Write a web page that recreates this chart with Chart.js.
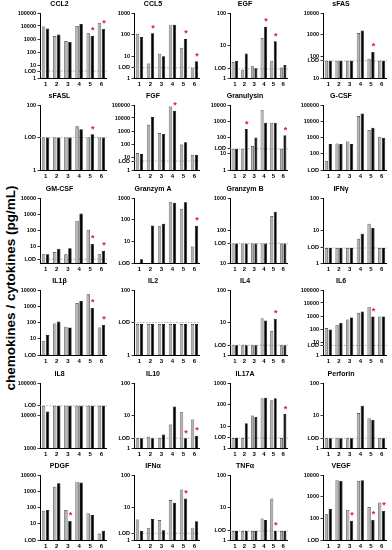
<!DOCTYPE html>
<html><head><meta charset="utf-8">
<script src="https://cdn.jsdelivr.net/npm/chart.js@4.4.0/dist/chart.umd.min.js"></script>
<style>
body{margin:0;background:#fff;width:392px;height:550px;overflow:hidden;position:relative;font-family:'Liberation Sans',Arial,sans-serif}
canvas{position:absolute}
#ylab{position:absolute;left:10px;top:288px;transform:translate(-50%,-50%) rotate(-90deg);white-space:nowrap;font-weight:bold;font-size:13.5px}
</style></head><body>
<div id="ylab">chemokines / cytokines (pg/mL)</div>
<script>
const groups = ['1', '2', '3', '4', '5', '6'];
const titles = ['CCL2', 'CCL5', 'EGF', 'sFAS', 'sFASL', 'FGF', 'Granulysin', 'G-CSF',
  'GM-CSF', 'Granzym A', 'Granzym B', 'IFNγ', 'IL1β', 'IL2', 'IL4', 'IL6',
  'IL8', 'IL10', 'IL17A', 'Perforin', 'PDGF', 'IFNα', 'TNFα', 'VEGF'];

// gray (A) and black (B) bars, pg/mL
const ccl2A = [9000, 1700, 700, 10000, 2800, 18000], ccl2B = [6500, 2200, 600, 14000, 1800, 6000];
const ccl5A = [110, 4.7, 13, 275, 25, 3], ccl5B = [78, 115, 10, 290, 63, 6];
const egfA = [3.1, 1.8, 2.3, 17, 3.4, 2.1], egfB = [3.4, 5.7, 2.0, 38, 13.4, 2.5];
const sfasA = [62, 62, 62, 1200, 77, 62], sfasB = [62, 62, 62, 1550, 160, 62];
const sfaslA = [10, 10, 10, 22, 10, 10], sfaslB = [10, 10, 10, 18, 12.6, 10];
const fgfA = [20, 3000, 700, 75000, 90, 15], fgfB = [17, 12000, 600, 36000, 135, 15];
const granulysinA = [20, 20, 30, 5000, 800, 20], granulysinB = [20, 330, 100, 800, 800, 140];
const gcsfA = [37, 430, 560, 21000, 2900, 1100], gcsfB = [400, 400, 400, 30000, 4000, 950];
const gmcsfA = [3.4, 4.7, 3.4, 400, 110, 3.4], gmcsfB = [3.4, 7.6, 8, 1100, 15, 5.7];
const granzymAA = [1, 1, 50, 630, 320, 5.7], granzymAB = [1.5, 54, 65, 600, 630, 52];
const granzymBA = [40, 40, 40, 40, 280, 40], granzymBB = [40, 40, 40, 40, 380, 40];
const ifngA = [2.9, 2.9, 2.9, 5.6, 16, 2.9], ifngB = [2.9, 2.9, 2.9, 7.9, 12, 2.9];
const il1bA = [7, 87, 54, 1600, 5400, 50], il1bB = [17, 115, 50, 2100, 790, 71];
const il2A = [9, 9, 9, 9, 9, 9], il2B = [9, 9, 9, 9, 9, 9];
const il4A = [2, 2, 2, 13.6, 5.5, 2], il4B = [2, 2, 2, 11.5, 13, 2];
const il6A = [120, 210, 540, 1800, 5000, 930], il6B = [90, 300, 780, 2200, 930, 930];
const il8A = [20000, 20000, 20000, 20000, 20000, 20000], il8B = [13300, 20000, 20000, 20000, 20000, 20000];
const il10A = [2, 2.2, 2, 5.3, 12.6, 7.5], il10B = [2, 2, 2.6, 19, 2, 2.4];
const il17aA = [2.9, 2.9, 32, 200, 160, 2.9], il17aB = [2.9, 14, 27, 210, 200, 37];
const perforinA = [2, 2, 2, 12, 8.3, 2], perforinB = [2, 2, 2, 20, 7.4, 2];
const pdgfA = [62, 1900, 70, 3900, 45, 2.5], pdgfB = [70, 3100, 15, 3400, 34, 3.7];
const ifnaA = [4.3, 2.3, 4.1, 17, 36, 2.4], ifnaB = [1.9, 4.4, 2, 14, 19, 3.8];
const tnfaA = [1.9, 1.9, 1.9, 4.6, 19, 1.9], tnfaB = [1.9, 1.9, 1.9, 4.1, 1.9, 1.9];
const vegfA = [155, 5800, 245, 5400, 330, 540], vegfB = [270, 5400, 78, 5800, 87, 220];

// axis ranges, detection limits and tick values
const yMin = [1, 1, 1, 10, 1, 1, 1, 10, 1, 1, 10, 1, 1, 1, 1, 1, 1000, 1, 1, 1, 1, 1, 1, 10];
const yMax = [1e5, 1000, 100, 1e4, 100, 1e5, 1e4, 1e5, 1e4, 1000, 1000, 100, 1e4, 100, 100, 1e5, 1e5, 100, 1000, 100, 1e4, 100, 100, 1e4];
const lod = [3.4, 3, 1.9, 62, 10, 4.9, 20, 10, 1.7, 1, 40, 2.9, 1, 10, 2, 5.4, 20000, 2, 2.9, 2, 1, 1.6, 1.9, 10];
const ticks = [
  [1, 3.4, 10, 100, 1000, 1e4, 1e5], [1, 3, 10, 100, 1000], [1, 1.9, 10, 100], [10, 62, 100, 1000, 1e4],
  [1, 10, 100], [1, 4.9, 10, 100, 1000, 1e4, 1e5], [1, 10, 20, 100, 1000, 1e4], [10, 100, 1000, 1e4, 1e5],
  [1.7, 10, 100, 1000, 1e4], [1, 10, 100, 1000], [10, 40, 100, 1000], [1, 2.9, 10, 100],
  [1, 10, 100, 1000, 1e4], [1, 10, 100], [1, 2, 10, 100], [1, 5.4, 10, 100, 1000, 1e4, 1e5],
  [1000, 1e4, 20000, 1e5], [1, 2, 10, 100], [1, 2.9, 10, 100, 1000], [1, 2, 10, 100],
  [1, 10, 100, 1000, 1e4], [1, 1.6, 10, 100], [1, 1.9, 10, 100], [10, 100, 1000, 1e4]
];
const stars = [[4, 5], [1, 4, 5], [3, 4], [4], [4], [3], [1, 5], [], [4, 5], [5], [], [],
  [4, 5], [], [4], [4], [], [4, 5], [5], [], [2], [4], [4], [2, 4, 5]];

const grayData = [ccl2A, ccl5A, egfA, sfasA, sfaslA, fgfA, granulysinA, gcsfA, gmcsfA, granzymAA, granzymBA, ifngA,
  il1bA, il2A, il4A, il6A, il8A, il10A, il17aA, perforinA, pdgfA, ifnaA, tnfaA, vegfA];
const blackData = [ccl2B, ccl5B, egfB, sfasB, sfaslB, fgfB, granulysinB, gcsfB, gmcsfB, granzymAB, granzymBB, ifngB,
  il1bB, il2B, il4B, il6B, il8B, il10B, il17aB, perforinB, pdgfB, ifnaB, tnfaB, vegfB];

const FONT = "'Liberation Sans', Arial, sans-serif";
const plotLeft = [40, 134, 230, 323];
const plotRight = [107, 200, 288, 387];
const AXW = 28, TITLEH = 12, XH = 12, PLOTH = 65;

// dotted detection-limit line
const lodLine = {
  id: 'lodLine',
  beforeDatasetsDraw(chart, args, opts) {
    const y = chart.scales.y;
    if (opts.value <= y.min) return;
    const py = y.getPixelForValue(opts.value);
    const ctx = chart.ctx, a = chart.chartArea;
    ctx.save();
    ctx.strokeStyle = '#999';
    ctx.lineWidth = 0.8;
    ctx.setLineDash([1.5, 1.5]);
    ctx.beginPath();
    ctx.moveTo(a.left, py);
    ctx.lineTo(a.right, py);
    ctx.stroke();
    ctx.restore();
  }
};

// red significance asterisks over the black bars
const starMarks = {
  id: 'starMarks',
  afterDatasetsDraw(chart, args, opts) {
    const meta = chart.getDatasetMeta(1);
    const ctx = chart.ctx;
    ctx.save();
    ctx.fillStyle = '#e5172f';
    ctx.font = 'bold 9px ' + FONT;
    ctx.textAlign = 'center';
    ctx.textBaseline = 'middle';
    opts.list.forEach(i => {
      const el = meta.data[i];
      ctx.fillText('*', el.x + 0.5, el.y - 5);
    });
    ctx.restore();
  }
};

titles.forEach((title, i) => {
  const col = i % 4, row = Math.floor(i / 4);
  const L = plotLeft[col] - AXW;
  const W = plotRight[col] - L;
  const top = Math.round(12.5 + 92.5 * row) - TITLEH;
  const c = document.createElement('canvas');
  c.width = W;
  c.height = TITLEH + PLOTH + XH;
  c.style.left = L + 'px';
  c.style.top = top + 'px';
  document.body.appendChild(c);

  const lv = lod[i];
  new Chart(c, {
    type: 'bar',
    data: {
      labels: groups,
      datasets: [
        { data: grayData[i], backgroundColor: '#b3b3b3', borderColor: '#333', borderWidth: 0.7 },
        { data: blackData[i], backgroundColor: '#000', borderColor: '#000', borderWidth: 0.7 }
      ]
    },
    options: {
      responsive: false,
      animation: false,
      events: [],
      layout: { padding: 0 },
      datasets: { bar: { categoryPercentage: 0.72, barPercentage: 0.85, borderSkipped: 'start' } },
      scales: {
        x: {
          offset: true,
          grid: { display: false, drawTicks: false },
          border: { display: true, color: '#000', width: 1 },
          ticks: { color: '#000', padding: 3, maxRotation: 0, autoSkip: false,
            font: { family: FONT, size: 6, weight: 'bold' } },
          afterFit(s) { s.height = XH; }
        },
        y: {
          type: 'logarithmic',
          min: yMin[i],
          max: yMax[i],
          afterBuildTicks(s) { s.ticks = ticks[i].map(v => ({ value: v })); },
          afterFit(s) { s.width = AXW; },
          grid: { display: true, drawOnChartArea: false, drawTicks: true, tickLength: 2.5, color: '#000', lineWidth: 0.8 },
          border: { display: true, color: '#000', width: 1 },
          ticks: {
            autoSkip: false, color: '#000', padding: 1.5,
            font: { family: FONT, size: 5.5, weight: 'bold' },
            callback: v => (v === lv ? 'LOD' : String(v))
          }
        }
      },
      plugins: {
        legend: { display: false },
        tooltip: { enabled: false },
        title: { display: true, text: title, color: '#000', padding: { top: 0, bottom: 5 },
          font: { family: FONT, size: 7, weight: 'bold', lineHeight: 1 } },
        lodLine: { value: lv },
        starMarks: { list: stars[i] }
      }
    },
    plugins: [lodLine, starMarks]
  });
});
</script>
</body></html>
